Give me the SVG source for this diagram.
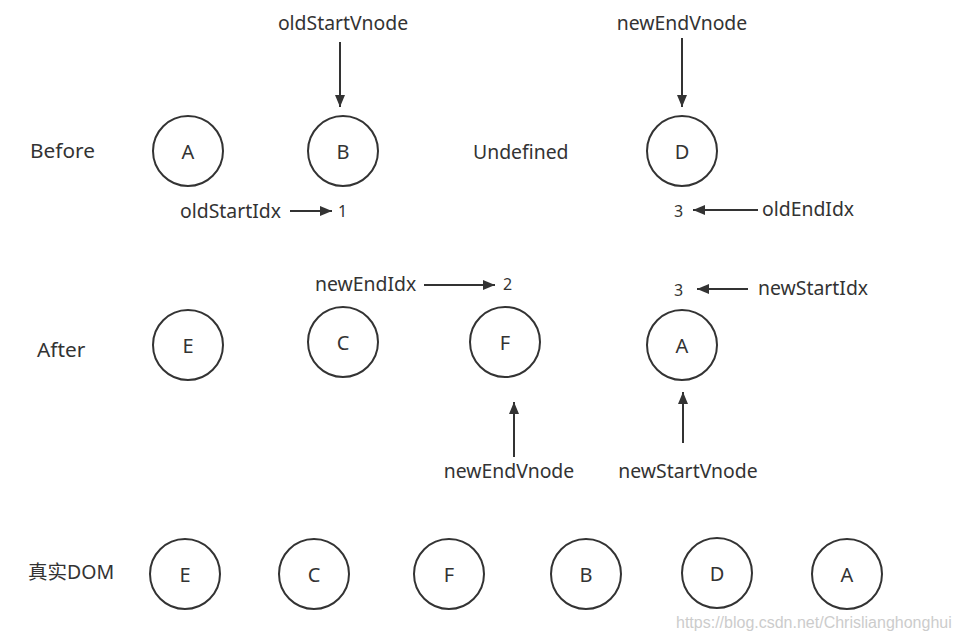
<svg xmlns="http://www.w3.org/2000/svg" width="959" height="641" viewBox="0 0 959 641">
<style>
text{font-family:"Noto Sans","Open Sans","Liberation Sans",sans-serif;fill:#333;}
.lbl{font-size:19.4px;}
.row{font-size:20.8px;}
.num{font-size:16px;}
.nd circle{fill:#fff;stroke:#333;stroke-width:2;}
.nd text{font-size:20px;text-anchor:middle;dominant-baseline:central;}
.cn line{stroke:#333;stroke-width:2;}
.wm{font-family:"Liberation Sans",sans-serif;font-size:16px;fill:#ccc;}
</style>
<defs>
<marker id="ah" viewBox="0 0 12 10" refX="12" refY="5" markerWidth="12" markerHeight="10" markerUnits="userSpaceOnUse" orient="auto">
<path d="M0,0 L12,5 L0,10 Z" fill="#333"/>
</marker>
</defs>
<rect width="959" height="641" fill="#fff"/>

<g id="labels">
<text class="row" x="30" y="158">Before</text>
<text class="row" x="37" y="357">After</text>
<text class="row" x="28" y="579" style="font-family:'Noto Sans','Noto Sans CJK SC',sans-serif;font-size:19.5px">真实DOM</text>
<text class="lbl" x="473" y="159">Undefined</text>
<text class="lbl" x="343" y="30" text-anchor="middle">oldStartVnode</text>
<text class="lbl" x="682" y="30" text-anchor="middle">newEndVnode</text>
<text class="lbl" x="180" y="218">oldStartIdx</text>
<text class="num" x="338" y="217">1</text>
<text class="num" x="674" y="217">3</text>
<text class="lbl" x="762" y="216">oldEndIdx</text>
<text class="lbl" x="315" y="291">newEndIdx</text>
<text class="num" x="503" y="290">2</text>
<text class="num" x="674" y="296">3</text>
<text class="lbl" x="758" y="295">newStartIdx</text>
<text class="lbl" x="509" y="478" text-anchor="middle">newEndVnode</text>
<text class="lbl" x="688" y="478" text-anchor="middle">newStartVnode</text>
<text class="wm" x="676" y="628">https://blog.csdn.net/Chrislianghonghui</text>
</g>

<g id="connectors" class="cn">
<line x1="340" y1="42" x2="340" y2="107" marker-end="url(#ah)"/>
<line x1="682" y1="38" x2="682" y2="107" marker-end="url(#ah)"/>
<line x1="290" y1="211" x2="332" y2="211" marker-end="url(#ah)"/>
<line x1="758" y1="210" x2="693" y2="210" marker-end="url(#ah)"/>
<line x1="424" y1="285" x2="495" y2="285" marker-end="url(#ah)"/>
<line x1="748" y1="289" x2="697" y2="289" marker-end="url(#ah)"/>
<line x1="514" y1="457" x2="514" y2="402" marker-end="url(#ah)"/>
<line x1="683" y1="443" x2="683" y2="392" marker-end="url(#ah)"/>
</g>

<g id="before-A" class="nd"><circle cx="188" cy="151" r="35"/><text x="188" y="151">A</text></g>
<g id="before-B" class="nd"><circle cx="343" cy="151" r="35"/><text x="343" y="151">B</text></g>
<g id="before-D" class="nd"><circle cx="682" cy="151" r="35"/><text x="682" y="151">D</text></g>

<g id="after-E" class="nd"><circle cx="188" cy="345" r="35"/><text x="188" y="345">E</text></g>
<g id="after-C" class="nd"><circle cx="343" cy="342" r="35"/><text x="343" y="342">C</text></g>
<g id="after-F" class="nd"><circle cx="505" cy="342" r="35"/><text x="505" y="342">F</text></g>
<g id="after-A" class="nd"><circle cx="682" cy="345" r="35"/><text x="682" y="345">A</text></g>

<g id="dom-E" class="nd"><circle cx="185" cy="574" r="35"/><text x="185" y="574">E</text></g>
<g id="dom-C" class="nd"><circle cx="314" cy="574" r="35"/><text x="314" y="574">C</text></g>
<g id="dom-F" class="nd"><circle cx="449" cy="574" r="35"/><text x="449" y="574">F</text></g>
<g id="dom-B" class="nd"><circle cx="586" cy="574" r="35"/><text x="586" y="574">B</text></g>
<g id="dom-D" class="nd"><circle cx="717" cy="573" r="35"/><text x="717" y="573">D</text></g>
<g id="dom-A" class="nd"><circle cx="847" cy="574" r="35"/><text x="847" y="574">A</text></g>
</svg>
